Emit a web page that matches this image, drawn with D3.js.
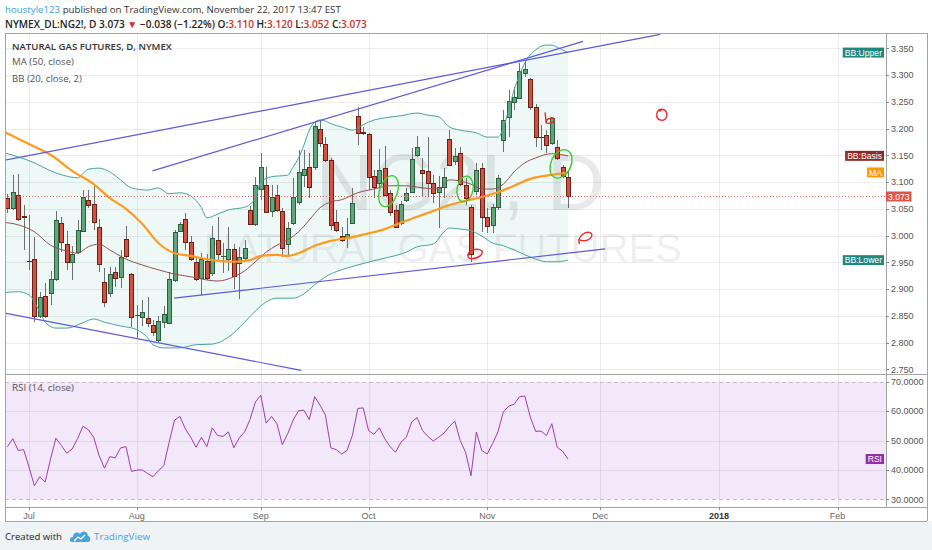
<!DOCTYPE html>
<html><head><meta charset="utf-8">
<script src="https://cdn.jsdelivr.net/npm/d3@7/dist/d3.min.js"></script>
<style>
html,body{margin:0;padding:0;background:#fff;}
svg{display:block;}
</style></head><body>
<svg id="c" width="932" height="550"></svg>
<script>
// ---------------- DATA ----------------
const firstBar = -4; // bar index of the first candle (Jul 3, 2017 = 0)
const open = [3.070,3.052,3.076,3.036,2.953,2.956,2.850,2.887,2.893,2.919,
3.024,2.984,2.951,2.969,3.009,3.067,3.059,3.016,2.913,2.893,
2.932,2.923,2.994,2.928,2.852,2.848,2.846,2.833,2.805,2.838,
2.837,2.917,3.009,3.031,2.988,2.951,2.921,2.953,2.930,2.992,
2.962,2.956,2.975,2.949,2.958,3.048,3.022,3.087,3.095,3.046,
3.076,3.046,2.984,3.024,3.063,3.113,3.128,3.128,3.199,3.171,
3.141,3.025,2.999,2.996,3.024,3.224,3.193,3.190,3.111,3.098,
3.126,3.080,3.048,3.024,3.067,3.081,3.151,3.123,3.121,3.098,
3.081,3.091,3.181,3.139,3.154,3.095,3.053,3.083,3.126,3.035,
3.020,3.053,3.179,3.222,3.250,3.257,3.304,3.293,3.240,3.185,
3.188,3.173,3.166,3.128,3.110];
const close = [3.052,3.081,3.031,3.035,2.952,2.850,2.885,2.850,2.919,3.029,
2.988,2.951,2.966,3.010,3.072,3.057,3.025,2.947,2.876,2.928,
2.921,2.960,2.962,2.848,2.852,2.857,2.837,2.820,2.840,2.853,
2.919,3.007,3.022,2.988,2.956,2.919,2.956,2.921,2.996,2.966,
2.962,2.975,2.924,2.960,2.977,3.022,3.095,3.128,3.044,3.072,
3.048,2.977,3.014,3.072,3.119,3.124,3.091,3.205,3.173,3.141,
3.020,3.010,2.992,3.003,3.061,3.192,3.192,3.110,3.091,3.123,
3.076,3.044,3.016,3.059,3.080,3.143,3.166,3.117,3.098,3.080,
3.091,3.110,3.132,3.149,3.096,3.070,2.966,3.123,3.035,3.018,
3.053,3.108,3.216,3.252,3.259,3.308,3.311,3.240,3.184,3.184,
3.169,3.220,3.145,3.111,3.073];
const high = [3.078,3.113,3.115,3.057,3.038,2.997,2.895,2.911,2.934,3.046,
3.035,3.009,2.981,3.029,3.085,3.085,3.096,3.031,2.939,2.941,
2.941,2.973,3.018,2.930,2.870,2.880,2.885,2.842,2.850,2.868,
2.932,3.010,3.025,3.042,2.999,2.958,2.967,2.966,3.018,3.035,
2.986,3.016,2.984,2.979,2.992,3.055,3.110,3.154,3.128,3.095,
3.095,3.052,3.025,3.108,3.160,3.160,3.154,3.214,3.216,3.184,
3.145,3.048,3.016,3.033,3.089,3.240,3.203,3.192,3.123,3.162,
3.167,3.085,3.057,3.065,3.089,3.164,3.186,3.145,3.184,3.113,
3.111,3.126,3.197,3.164,3.166,3.108,3.057,3.136,3.136,3.052,
3.059,3.113,3.235,3.272,3.278,3.323,3.324,3.294,3.246,3.207,
3.197,3.222,3.179,3.132,3.120];
const low = [3.042,3.048,3.027,2.973,2.936,2.838,2.846,2.846,2.870,2.915,
2.969,2.936,2.917,2.966,3.007,3.052,3.010,2.932,2.867,2.885,
2.904,2.902,2.958,2.829,2.809,2.831,2.829,2.812,2.801,2.827,
2.835,2.913,3.007,2.973,2.953,2.915,2.889,2.917,2.924,2.951,
2.930,2.934,2.900,2.882,2.954,3.020,3.018,3.067,3.042,3.035,
3.044,2.960,2.962,3.020,3.057,3.091,3.070,3.123,3.166,3.137,
3.010,3.007,2.988,2.977,3.022,3.169,3.188,3.085,3.070,3.089,
3.074,3.037,3.014,3.020,3.063,3.080,3.147,3.072,3.072,3.061,
3.014,3.070,3.130,3.132,3.093,3.057,2.951,3.076,3.007,3.005,
3.005,3.048,3.156,3.184,3.235,3.255,3.296,3.235,3.166,3.160,
3.154,3.169,3.141,3.108,3.052];
const rsi = [47.9,50.6,46.6,46.9,41.0,34.6,37.7,35.9,43.7,50.8,
48.3,45.7,47.1,50.6,54.8,53.7,51.1,44.9,40.6,44.5,
44.1,47.5,47.9,39.5,39.9,40.0,38.8,37.7,39.7,41.4,
49.4,56.9,58.2,54.0,51.1,47.7,51.1,47.9,54.3,51.7,
51.4,52.9,47.5,50.9,52.9,57.1,63.1,65.4,55.9,58.2,
55.7,48.6,52.3,56.9,60.1,60.3,57.1,64.9,62.0,58.6,
47.5,46.9,45.4,46.6,51.7,60.9,61.1,53.4,52.1,54.3,
50.6,47.9,46.0,49.4,51.1,56.3,57.8,53.4,51.4,49.8,
51.1,52.5,54.8,56.6,50.0,46.0,38.0,52.9,46.6,45.4,
48.9,52.9,59.7,61.7,62.3,64.9,65.1,58.0,53.1,53.2,
51.7,55.7,47.7,46.3,43.7];

// MA (50, close) at these bars
const maIdx = [-5,0,4,8,12,15,18,21,24,27,30,34,38,41,43,46,48,50,53,56,60,63,66,69,72,75,78,81,84,87,90,93,96,98,100];
const maVal = [3.196,3.171,3.151,3.121,3.096,3.070,3.050,3.022,2.986,2.967,2.962,2.954,2.951,2.954,2.962,2.964,2.962,2.967,2.981,2.990,2.997,3.004,3.012,3.024,3.035,3.046,3.057,3.065,3.072,3.081,3.093,3.106,3.112,3.115,3.118];
// BB (20, close, 2)
const bbUpIdx = [-5,-2,1,4,7,9,11,13,15,17,19,22,24,26,28,30,32,33,35,37,40,42,43,45,48,49,50,51,52,53,54,55,56,58,60,61,62,64,66,69,72,74,76,78,80,83,85,87,88,89,90,91,92,93,94,95,96,97,98,99,100];
const bbUpVal = [3.156,3.147,3.136,3.121,3.111,3.108,3.124,3.126,3.119,3.104,3.089,3.085,3.089,3.078,3.080,3.074,3.052,3.033,3.040,3.048,3.053,3.070,3.100,3.110,3.113,3.128,3.145,3.169,3.197,3.212,3.216,3.214,3.209,3.203,3.197,3.201,3.207,3.216,3.220,3.224,3.229,3.225,3.222,3.203,3.197,3.192,3.184,3.184,3.201,3.235,3.272,3.300,3.323,3.338,3.347,3.354,3.356,3.356,3.352,3.347,3.342];
const bbMidIdx = [-5,-2,1,4,7,9,11,13,15,18,21,24,27,30,33,35,38,40,42,44,46,48,50,52,54,56,58,61,64,67,70,73,76,78,80,82,84,86,88,90,92,94,97,100];
const bbMidVal = [3.025,3.020,3.007,2.982,2.971,2.967,2.979,2.984,2.973,2.956,2.945,2.936,2.928,2.923,2.917,2.915,2.923,2.934,2.951,2.969,2.982,2.992,3.007,3.029,3.052,3.063,3.067,3.080,3.087,3.093,3.093,3.089,3.087,3.104,3.102,3.096,3.087,3.087,3.096,3.119,3.136,3.145,3.153,3.149];
const bbLowIdx = [-5,-2,0,2,3,5,7,10,12,14,17,20,22,23,25,28,31,34,37,40,42,44,46,49,51,53,55,58,61,64,67,70,72,75,77,78,80,82,84,86,88,90,92,94,96,98,100];
const bbLowVal = [2.893,2.895,2.889,2.857,2.838,2.827,2.827,2.837,2.844,2.838,2.831,2.824,2.809,2.796,2.790,2.790,2.796,2.797,2.810,2.838,2.859,2.876,2.883,2.883,2.891,2.908,2.923,2.936,2.945,2.953,2.960,2.969,2.979,2.984,3.007,3.014,3.012,3.009,2.999,2.986,2.981,2.973,2.964,2.956,2.951,2.951,2.954];

// axis ticks
const priceTicks = [2.75,2.80,2.85,2.90,2.95,3.00,3.05,3.10,3.15,3.20,3.25,3.30,3.35];
const rsiTicks = [30,40,50,60,70];
const monthLabels = ["Jul","Aug","Sep","Oct","Nov","Dec","2018","Feb"];
const monthIdx = [0,20,43,63,85,106,128,150];

// hand-drawn trend lines (bar index / price of both ends)
const tlIdx1 = [-4.5, 22.9, 26.9, -4.5];
const tlP1   = [3.141, 3.121, 2.883, 2.855];
const tlIdx2 = [117.1, 102.8, 106.9, 50.5];
const tlP2   = [3.376, 3.363, 2.975, 2.748];
// hand-drawn marks
const greenMarkIdx = [66.7, 80.9, 98.7];
const greenMarkP   = [3.083, 3.087, 3.134];
const redMarkIdx = [82.7, 96.5, 103.2, 117.4];
const redMarkP   = [2.966, 3.218, 2.996, 3.225];

// ---------------- CHART ----------------
const svg = d3.select("#c");
const L=5, R=886, T=33, MB=374, RB=507, AB=521, FR=927;
const x = d3.scaleLinear().domain([0,100]).range([29,568]);
const y = d3.scaleLinear().domain([2.75,3.35]).range([369.3,48.3]);
const yr = d3.scaleLinear().domain([30,70]).range([499.3,381.7]);
const SANS = '"Open Sans","Liberation Sans",sans-serif';
const AX = '"Liberation Sans",Arial,sans-serif';

function fit(t, w){ const n=t.node(); const len=n.getComputedTextLength(); const fs=parseFloat(t.attr("font-size")); if(len>0) t.attr("font-size",(fs*w/len).toFixed(2)); return t; }

const defs = svg.append("defs");
defs.append("clipPath").attr("id","cm").append("rect").attr("x",L).attr("y",T).attr("width",R-L).attr("height",MB-T);
defs.append("clipPath").attr("id","cr").append("rect").attr("x",L).attr("y",MB).attr("width",R-L).attr("height",RB-MB);

// footer background
svg.append("rect").attr("x",0).attr("y",AB).attr("width",932).attr("height",550-AB).attr("fill","#f0f3f6");

// RSI band fill
svg.append("rect").attr("x",L).attr("y",yr(70)).attr("width",R-L).attr("height",yr(30)-yr(70)).attr("fill","#f3e7fa");

// grid
const grid = svg.append("g");
priceTicks.forEach(v=>grid.append("line").attr("x1",L).attr("x2",R).attr("y1",Math.round(y(v))+0.5).attr("y2",Math.round(y(v))+0.5).attr("stroke","#ececec"));
[40,50,60].forEach(v=>grid.append("line").attr("x1",L).attr("x2",R).attr("y1",Math.round(yr(v))+0.5).attr("y2",Math.round(yr(v))+0.5).attr("stroke","rgba(0,0,0,0.07)"));
monthIdx.forEach(i=>grid.append("line").attr("x1",Math.round(x(i))+0.5).attr("x2",Math.round(x(i))+0.5).attr("y1",T).attr("y2",RB).attr("stroke","rgba(0,0,0,0.07)"));
[70,30].forEach(v=>grid.append("line").attr("x1",L).attr("x2",R).attr("y1",Math.round(yr(v))+0.5).attr("y2",Math.round(yr(v))+0.5).attr("stroke","#c9b9d6").attr("stroke-dasharray","4,3"));

// watermark
const wm = svg.append("g").attr("clip-path","url(#cm)").attr("fill","#000").attr("fill-opacity",0.085).attr("font-family",AX).attr("text-anchor","middle");
wm.append("text").attr("x",460).attr("y",210).attr("font-size",80).text("NG2!, D");
wm.append("text").attr("x",443).attr("y",262).attr("font-size",40).text("NATURAL GAS FUTURES");

const gm = svg.append("g").attr("clip-path","url(#cm)");
const pts = (idx, val) => idx.map((d,k)=>[x(d), y(val[k])]);
const lineGen = d3.line().curve(d3.curveMonotoneX);
// BB fill
const upPts = pts(bbUpIdx, bbUpVal), loPts = pts(bbLowIdx, bbLowVal);
const fillD = lineGen(upPts) + lineGen(loPts.slice().reverse()).replace(/^M/,"L") + "Z";
gm.append("path").attr("d",fillD).attr("fill","rgba(0,150,136,0.065)");

// candles
const bars = open.map((o,k)=>({i:firstBar+k,o,c:close[k],h:high[k],l:low[k]}));
const cg = gm.append("g").attr("shape-rendering","crispEdges");
bars.forEach(b=>{
  const cx = Math.round(x(b.i));
  const up = b.c >= b.o;
  cg.append("line").attr("x1",cx+0.5).attr("x2",cx+0.5).attr("y1",y(b.h)).attr("y2",y(b.l)).attr("stroke","#6f6f72");
  const top = Math.round(y(Math.max(b.o,b.c))), bot = Math.round(y(Math.min(b.o,b.c)));
  const h = Math.max(0, bot-top);
  cg.append("rect").attr("x",cx-1.5).attr("y",top+0.5).attr("width",4).attr("height",Math.max(h,0.01))
    .attr("fill", up?"#5fa67a":"#d5503f").attr("stroke", up?"#2c5e3f":"#6b2017").attr("stroke-width",1);
});

// indicator lines
gm.append("path").attr("d",lineGen(upPts)).attr("fill","none").attr("stroke","#47a49a").attr("stroke-width",1);
gm.append("path").attr("d",lineGen(loPts)).attr("fill","none").attr("stroke","#47a49a").attr("stroke-width",1);
gm.append("path").attr("d",lineGen(pts(bbMidIdx,bbMidVal))).attr("fill","none").attr("stroke","#95504f").attr("stroke-width",1);
gm.append("path").attr("d",lineGen(pts(maIdx,maVal))).attr("fill","none").attr("stroke","#ff9a1f").attr("stroke-width",2.2);

// trend lines
tlIdx1.forEach((d,k)=>gm.append("line").attr("x1",x(d)).attr("y1",y(tlP1[k])).attr("x2",x(tlIdx2[k])).attr("y2",y(tlP2[k])).attr("stroke","#5c5ad6").attr("stroke-width",1.2));

// green ellipses
const gRx=[9,8,10], gRy=[16,13,15], gRot=[18,10,25];
greenMarkIdx.forEach((d,k)=>gm.append("ellipse").attr("cx",0).attr("cy",0).attr("rx",gRx[k]).attr("ry",gRy[k])
  .attr("transform",`translate(${x(d)},${y(greenMarkP[k])}) rotate(${gRot[k]})`).attr("fill","none").attr("stroke","#34d12f").attr("stroke-width",1.4));
// red marks
const redPaths = [
  "M-7,2 C-7,-4 3,-6 7,-3 C9,0 4,5 -3,5 C-7,5 -8,2 -5,-1",
  "M-4,-6 L-3,4 C-3,-1 5,-3 5,1 C5,4 0,5 -3,4",
  "M-6,6 C-8,-1 0,-7 5,-5 C9,-3 5,3 -1,3 C-4,3 -6,2 -6,1",
  "M0,-6 C-6,-6 -7,4 -1,5 C5,6 7,-2 3,-5 C2,-6 -1,-6 -2,-4"
];
redMarkIdx.forEach((d,k)=>gm.append("path").attr("d",redPaths[k]).attr("transform",`translate(${x(d)},${y(redMarkP[k])})`)
  .attr("fill","none").attr("stroke","#e62e2b").attr("stroke-width",1.4).attr("stroke-linecap","round"));

// last price dotted line
const last = bars[bars.length-1], prev = bars[bars.length-2];
svg.append("line").attr("x1",L).attr("x2",R).attr("y1",Math.round(y(last.c))+0.5).attr("y2",Math.round(y(last.c))+0.5)
  .attr("stroke","#e0675f").attr("stroke-dasharray","1,2");

// RSI line
svg.append("g").attr("clip-path","url(#cr)").append("path")
  .attr("d", d3.line()(rsi.map((v,k)=>[x(firstBar+k), yr(v)]))).attr("fill","none").attr("stroke","#a03db0").attr("stroke-width",1);

// frame
const fr = svg.append("g").attr("stroke","#a4a4a4").attr("shape-rendering","crispEdges");
fr.append("line").attr("x1",L).attr("x2",FR).attr("y1",T).attr("y2",T);
fr.append("line").attr("x1",L).attr("x2",FR).attr("y1",MB).attr("y2",MB);
fr.append("line").attr("x1",L).attr("x2",FR).attr("y1",RB).attr("y2",RB);
fr.append("line").attr("x1",L).attr("x2",FR).attr("y1",AB).attr("y2",AB);
fr.append("line").attr("x1",L).attr("x2",L).attr("y1",T).attr("y2",AB);
fr.append("line").attr("x1",R).attr("x2",R).attr("y1",T).attr("y2",RB);
fr.append("line").attr("x1",FR).attr("x2",FR).attr("y1",T).attr("y2",AB);

// price axis
const ax = svg.append("g").attr("font-family",AX).attr("font-size",9).attr("fill","#555");
priceTicks.forEach(v=>{
  ax.append("line").attr("x1",R).attr("x2",R+3).attr("y1",Math.round(y(v))+0.5).attr("y2",Math.round(y(v))+0.5).attr("stroke","#888");
  ax.append("text").attr("x",891).attr("y",y(v)+3.2).text(d3.format(".3f")(v));
});
rsiTicks.forEach(v=>{
  ax.append("line").attr("x1",R).attr("x2",R+3).attr("y1",Math.round(yr(v))+0.5).attr("y2",Math.round(yr(v))+0.5).attr("stroke","#888");
  ax.append("text").attr("x",891).attr("y",yr(v)+3.2).text(d3.format(".4f")(v));
});
monthIdx.forEach((i,k)=>{
  ax.append("line").attr("x1",Math.round(x(i))+0.5).attr("x2",Math.round(x(i))+0.5).attr("y1",RB).attr("y2",RB+3).attr("stroke","#888");
  ax.append("text").attr("x",x(i)).attr("y",518.5).attr("text-anchor","middle").attr("font-weight",monthLabels[k]==="2018"?"bold":"normal")
    .attr("fill",monthLabels[k]==="2018"?"#333":"#666").text(monthLabels[k]);
});

// series labels near price axis
function tag(txt, yy, bg, xRight, anchorLeft){
  const g = svg.append("g");
  const t = g.append("text").attr("font-family",AX).attr("font-size",8.6).attr("fill","#fff").text(txt);
  const w = t.node().getComputedTextLength()+4;
  const x0 = anchorLeft ? xRight : xRight - w;
  g.insert("rect","text").attr("x",x0).attr("y",yy-5).attr("width",w).attr("height",10).attr("fill",bg);
  t.attr("x",x0+2).attr("y",yy+3.1);
}
tag("BB:Upper", y(bbUpVal[bbUpVal.length-1]), "#20897f", R-2);
tag("BB:Basis", y(bbMidVal[bbMidVal.length-1]), "#8c2b2b", R-2);
tag("MA", y(maVal[maVal.length-1]), "#ff9800", R-2);
tag("BB:Lower", y(bbLowVal[bbLowVal.length-1]), "#20897f", R-2);
tag("RSI", yr(rsi[rsi.length-1]), "#9a2aa8", R-2);
tag(d3.format(".3f")(last.c), y(last.c), "#e05448", R, true);

// legends
const lg = svg.append("g").attr("font-family",SANS);
fit(lg.append("text").attr("x",12).attr("y",49.5).attr("font-size",10).attr("font-weight",600).attr("fill","#333").text("NATURAL GAS FUTURES, D, NYMEX"),160);
fit(lg.append("text").attr("x",12).attr("y",65).attr("font-size",10).attr("fill","#555").text("MA (50, close)"),62);
fit(lg.append("text").attr("x",12).attr("y",81.5).attr("font-size",10).attr("fill","#555").text("BB (20, close, 2)"),70);
fit(lg.append("text").attr("x",12).attr("y",391).attr("font-size",10).attr("fill","#555").text("RSI (14, close)"),62);

// header
const h1 = svg.append("text").attr("x",5).attr("y",12.5).attr("font-family",SANS).attr("font-size",11).attr("fill","#333");
h1.append("tspan").attr("fill","#3aa0d8").text("houstyle123");
h1.append("tspan").text(" published on TradingView.com, November 22, 2017 13:47 EST");
fit(h1,336);
const red = "#d0312d", fmt3 = d3.format(".3f");
const chg = last.c - prev.c, pct = chg/prev.c*100;
const h2 = svg.append("text").attr("x",5).attr("y",27.5).attr("font-family",SANS).attr("font-size",11).attr("font-weight",600).attr("fill","#222");
h2.append("tspan").text("NYMEX_DL:NG2!, D  " + fmt3(last.c) + " ");
h2.append("tspan").attr("fill",red).text("▼");
h2.append("tspan").text(" " + (chg<0?"−":"+") + fmt3(Math.abs(chg)) + " (" + (chg<0?"−":"+") + Math.abs(pct).toFixed(2) + "%) O:");
h2.append("tspan").attr("fill",red).text(fmt3(last.o));
h2.append("tspan").text(" H:");
h2.append("tspan").attr("fill",red).text(fmt3(last.h));
h2.append("tspan").text(" L:");
h2.append("tspan").attr("fill",red).text(fmt3(last.l));
h2.append("tspan").text(" C:");
h2.append("tspan").attr("fill",red).text(fmt3(last.c));
fit(h2,362);

// footer
fit(svg.append("text").attr("x",5).attr("y",540).attr("font-family",SANS).attr("font-size",10).attr("fill","#222").text("Created with"),57);
const logo = svg.append("g").attr("transform","translate(70,529)");
logo.append("path").attr("d","M2,13 C-1,13 -1,8 3,8 C3,4 7,2 10,5 C12,1 18,2 18,7 C21,7 21,13 18,13 Z").attr("fill","#45a5dc");
logo.append("path").attr("d","M4,12 L8,8 L11,10 L15,6").attr("fill","none").attr("stroke","#fff").attr("stroke-width",1.3);
fit(svg.append("text").attr("x",94).attr("y",540).attr("font-family",SANS).attr("font-size",10).attr("fill","#3ea3dd").text("TradingView"),56);
</script>
</body></html>
